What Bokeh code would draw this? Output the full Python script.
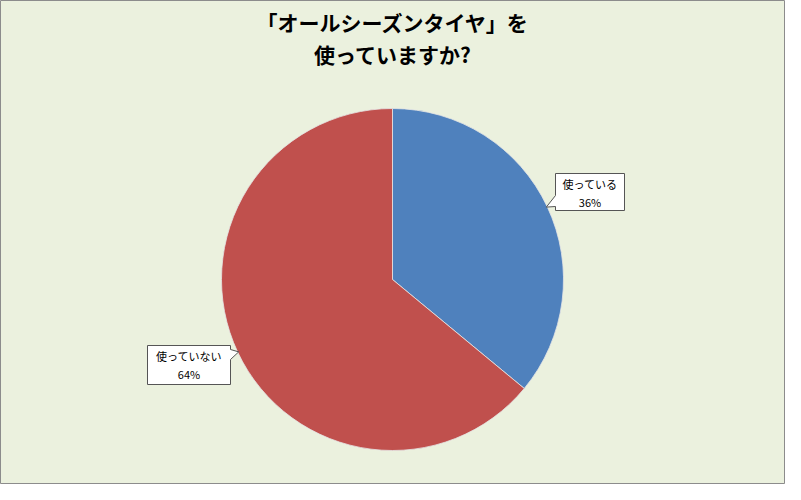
import math
from bokeh.plotting import figure
from bokeh.models import Range1d
from bokeh.core.properties import value
from bokeh.embed import file_html
from bokeh.resources import INLINE

# data
title_lines = ["「オールシーズンタイヤ」を", "使っていますか?"]
categories = ["使っている", "使っていない"]
shares = [36, 64]
colors = ["#4F81BD", "#C0504D"]

W, H = 785, 484
cx, cy, r = 392, 205, 171
FONT = "Noto Sans CJK JP"

p = figure(width=W, height=H, x_range=Range1d(0, W), y_range=Range1d(0, H),
           output_backend="svg", toolbar_location=None, min_border=0)
p.axis.visible = False
p.grid.visible = False
p.background_fill_color = "#EBF1DE"
p.border_fill_color = "#EBF1DE"
p.outline_line_color = "#8C8C8C"
p.outline_line_width = 1

# slices, clockwise from 12 o'clock
total = sum(shares)
angle = math.pi / 2
mids = []
for share, col in zip(shares, colors):
    sweep = 2 * math.pi * share / total
    p.wedge(x=cx, y=cy, radius=r, start_angle=angle - sweep, end_angle=angle,
            fill_color=col, line_color="#E6E6E6", line_width=0.8)
    mids.append(angle - sweep / 2)
    angle -= sweep

# title
p.text(x=[W / 2] * 2, y=[463, 431], text=title_lines, text_font=value(FONT),
       text_font_style="bold", text_font_size="21px", text_align="center",
       text_baseline="middle", text_color="#000000")

# callout boxes: (left, right, top, bottom, pointer side)
boxes = [(555, 624, 311, 274, "left"), (147, 230, 139, 100, "right")]
for cat, share, mid, (x0, x1, y1, y0, side) in zip(categories, shares, mids, boxes):
    tx = cx + (r - 1) * math.cos(mid)
    ty = cy + (r - 1) * math.sin(mid)
    if side == "left":
        ys = [y0 + 4, y0 + 15]
        xs = [x0, x1, x1, x0, x0, tx, x0]
        yy = [y1, y1, y0, y0, ys[0], ty, ys[1]]
    else:
        ys = [y1 - 14, y1 - 4]
        xs = [x0, x1, x1, tx, x1, x1, x0]
        yy = [y1, y1, ys[1], ty, ys[0], y0, y0]
    p.patch(xs, yy, fill_color="white", line_color="#555555", line_width=1)
    xm = (x0 + x1) / 2
    p.text(x=[xm], y=[y1 - 10], text=[cat], text_font=value(FONT),
           text_font_size="11px", text_align="center", text_baseline="middle",
           text_color="#000000")
    p.text(x=[xm], y=[y1 - 28], text=[f"{share}%"], text_font=value(FONT),
           text_font_size="11px", text_align="center", text_baseline="middle",
           text_color="#000000")

open("out.html", "w").write(file_html(p, INLINE))
